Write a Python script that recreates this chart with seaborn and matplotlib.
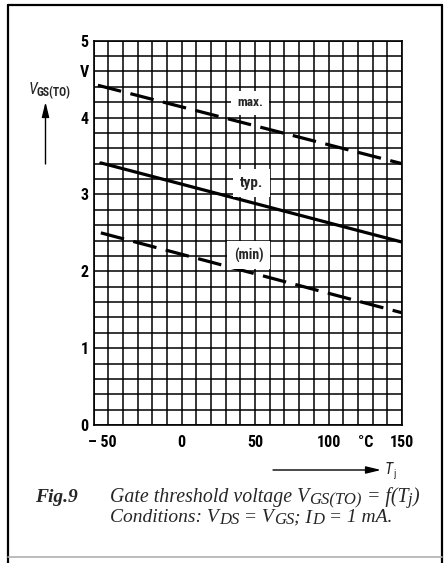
import numpy as np
import pandas as pd
import matplotlib
matplotlib.use("Agg")
import matplotlib.pyplot as plt
import seaborn as sns
from matplotlib import font_manager
from matplotlib.lines import Line2D
from matplotlib.transforms import ScaledTranslation

# Junction temperature (°C) and gate threshold voltage (V) at the ends of each curve
tj_max = [-57, 150]
vgs_max = [4.42, 3.40]
tj_typ = [-55, 150]
vgs_typ = [3.41, 2.38]
tj_min = [-55, 150]
vgs_min = [2.50, 1.46]
curve_names = ["max.", "typ.", "(min)"]

x_ticks = [-50, 0, 50, 100, 125, 150]
x_tick_labels = ["– 50", "0", "50", "100", "°C", "150"]
y_ticks = [0, 1, 2, 3, 4, 4.6, 5]
y_tick_labels = ["0", "1", "2", "3", "4", "V", "5"]

sns.set_style("white")

available = {f.name for f in font_manager.fontManager.ttflist}
narrow = "DejaVu Sans"
for cand in ["Liberation Sans Narrow", "Roboto Condensed", "DejaVu Sans Condensed",
             "Open Sans Condensed"]:
    if cand in available:
        narrow = cand
        break
serif = "Liberation Serif"

plt.rcParams["font.family"] = [narrow, "DejaVu Sans"]

W, H = 447, 563
fig = plt.figure(figsize=(W / 100, H / 100), dpi=100)
fig.patch.set_facecolor("white")


def fx(px):
    return px / W


def fy(py):
    return 1 - py / H


ax = fig.add_axes([fx(93.5), fy(425), (402 - 93.5) / W, (425 - 40.7) / H])

df = pd.concat([
    pd.DataFrame({"Tj": tj_max, "VGS": vgs_max, "curve": curve_names[0]}),
    pd.DataFrame({"Tj": tj_typ, "VGS": vgs_typ, "curve": curve_names[1]}),
    pd.DataFrame({"Tj": tj_min, "VGS": vgs_min, "curve": curve_names[2]}),
], ignore_index=True)

sns.lineplot(
    data=df, x="Tj", y="VGS", style="curve",
    dashes={"max.": (7.5, 3.0), "typ.": "", "(min)": (7.5, 3.0)},
    color="black", linewidth=2.3, legend=False, ax=ax, zorder=3,
)

ax.set_xlim(-60, 150)
ax.set_ylim(0, 5)
ax.set_xlabel("")
ax.set_ylabel("")

# grid every 10 °C and every 0.2 V
ax.set_xticks(np.arange(-60, 151, 10), minor=True)
ax.set_yticks(np.arange(0, 5.001, 0.2), minor=True)
ax.xaxis.remove_overlapping_locs = False
ax.yaxis.remove_overlapping_locs = False
ax.grid(which="minor", color="black", linewidth=1.1)
ax.grid(which="major", visible=False)
ax.set_axisbelow(True)

ax.set_xticks(x_ticks)
ax.set_xticklabels(x_tick_labels)
ax.set_yticks(y_ticks)
ax.set_yticklabels(y_tick_labels)
ax.tick_params(which="both", length=0)
ax.tick_params(axis="x", pad=7, labelsize=11.5)
ax.tick_params(axis="y", pad=3.5, labelsize=11.5)
for lbl in ax.get_xticklabels() + ax.get_yticklabels():
    lbl.set_fontweight("bold")
    lbl.set_color("black")
first = ax.get_xticklabels()[0]
first.set_transform(first.get_transform() + ScaledTranslation(-0.06, 0, fig.dpi_scale_trans))

for sp in ax.spines.values():
    sp.set_color("black")
    sp.set_linewidth(1.2)
    sp.set_visible(True)

# curve labels on white patches
label_pos = {"max.": (46.7, 4.19), "typ.": (47.8, 3.15), "(min)": (45.5, 2.21)}
label_size = {"max.": 9.5, "typ.": 11, "(min)": 10}
for name in curve_names:
    x, y = label_pos[name]
    ax.text(x, y, name, ha="center", va="center", fontsize=label_size[name],
            fontweight="bold", zorder=4,
            bbox=dict(boxstyle="square,pad=0.45", fc="white", ec="none"))

renderer = fig.canvas.get_renderer()


def text_run(x_px, y_px, pieces, **common):
    """Place consecutive text pieces (text, size, baseline shift px) on one line."""
    x = x_px
    for s, size, dy in pieces:
        t = fig.text(fx(x), fy(y_px + dy), s, fontsize=size, ha="left",
                     va="baseline", **common)
        x = t.get_window_extent(renderer).x1


# axis quantity labels with arrows
text_run(29, 94, [("V", 11.5, 0)], style="italic")
text_run(36.5, 96, [("GS(TO)", 8.5, 0)], fontweight="bold")
ax.annotate("", xy=(fx(45.5), fy(102)), xytext=(fx(45.5), fy(164)),
            xycoords="figure fraction", textcoords="figure fraction",
            arrowprops=dict(arrowstyle="-|>,head_length=0.9,head_width=0.22",
                            color="black", lw=1.0, shrinkA=0, shrinkB=0))
ax.annotate("", xy=(fx(381), fy(470)), xytext=(fx(273), fy(470)),
            xycoords="figure fraction", textcoords="figure fraction",
            arrowprops=dict(arrowstyle="-|>,head_length=0.9,head_width=0.22",
                            color="black", lw=1.0, shrinkA=0, shrinkB=0))
text_run(385, 474, [("T", 11.5, 0)], style="italic")
text_run(393, 477, [("j", 7.5, 0)])

# caption
cap = dict(family=serif, style="italic")
text_run(35, 502, [("Fig.9", 14, 0)], fontweight="bold", **cap)
text_run(110, 502, [("Gate threshold voltage V", 14.3, 0), ("GS(TO)", 12, 2),
                    (" = f(T", 14.3, 0), ("j", 12, 2), (")", 14.3, 0)], **cap)
text_run(110, 522, [("Conditions: V", 14, 0), ("DS", 12, 2), (" = V", 14, 0),
                    ("GS", 12, 2), ("; I", 14, 0), ("D", 12, 2),
                    (" = 1 mA.", 14, 0)], **cap)

# outer border
border = dict(transform=fig.transFigure, color="black", linewidth=1.6)
fig.add_artist(Line2D([fx(7.5), fx(7.5)], [0, fy(5)], **border))
fig.add_artist(Line2D([fx(7.5), fx(441.5)], [fy(5), fy(5)], **border))
fig.add_artist(Line2D([fx(441.5), fx(441.5)], [fy(5), 0], **border))
fig.add_artist(Line2D([fx(7.5), fx(441.5)], [fy(557), fy(557)],
                      transform=fig.transFigure, color="#b0b0b0", linewidth=1.2))

fig.savefig("out.png", dpi=100, facecolor="white")
